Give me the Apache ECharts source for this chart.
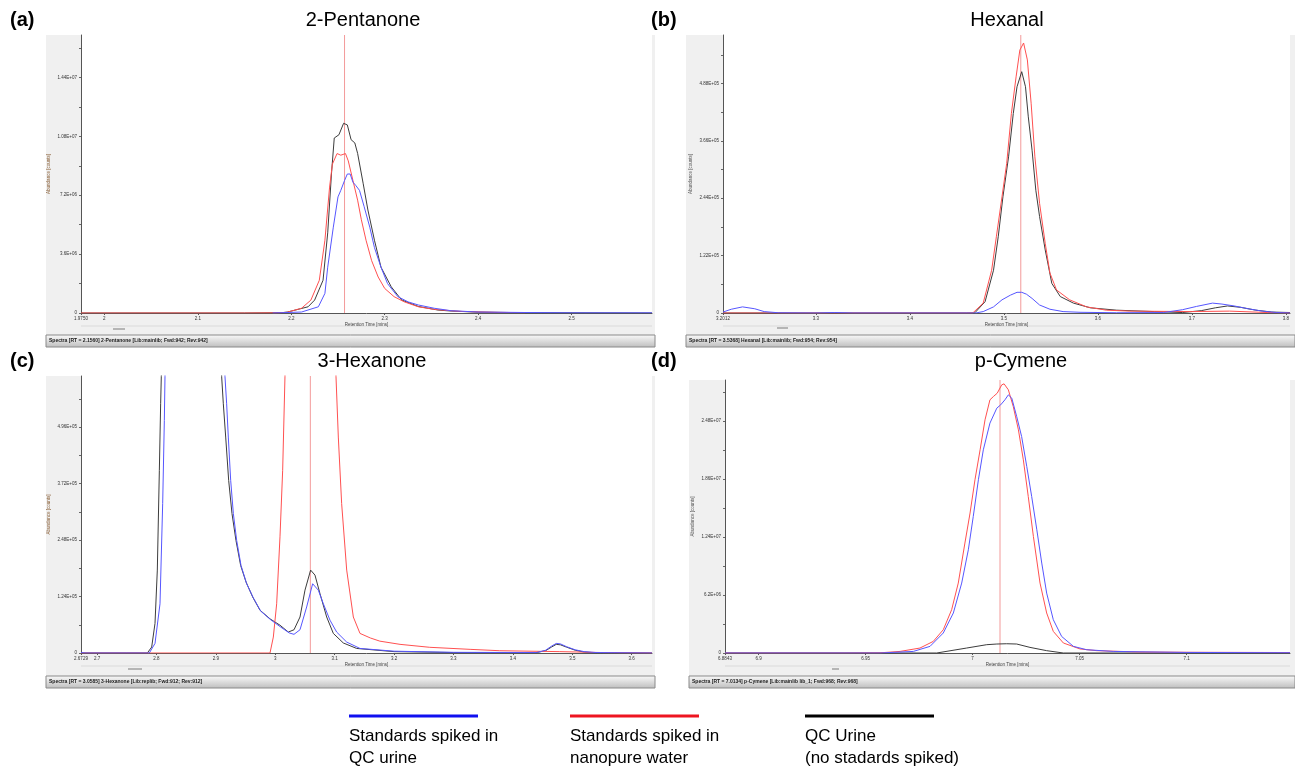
<!DOCTYPE html>
<html><head><meta charset="utf-8">
<script src="https://cdn.jsdelivr.net/npm/echarts@6/dist/echarts.min.js"></script>
<style>html,body{margin:0;padding:0;background:#fff}#c{width:1295px;height:772px}</style>
</head><body><div id="c"></div><script>
// ---------- data ----------
const seriesNames = ['Standards spiked in QC urine', 'Standards spiked in nanopure water', 'QC Urine (no stadards spiked)'];
const legendLabels = ['Standards spiked in\nQC urine', 'Standards spiked in\nnanopure water', 'QC Urine\n(no stadards spiked)'];
const compoundTitles = ['2-Pentanone', 'Hexanal', '3-Hexanone', 'p-Cymene'];
const panelTags = ['(a)', '(b)', '(c)', '(d)'];
const statusTexts = [
  'Spectra [RT = 2.1560] 2-Pentanone [Lib:mainlib; Fwd:942; Rev:942]',
  'Spectra [RT = 3.5368] Hexanal [Lib:mainlib; Fwd:954; Rev:954]',
  'Spectra [RT = 3.0585] 3-Hexanone [Lib:replib; Fwd:912; Rev:912]',
  'Spectra [RT = 7.0134] p-Cymene [Lib:mainlib lib_1; Fwd:968; Rev:968]'
];
const retentionMarks = [2.257, 3.518, 3.059, 7.0128];

const pentanoneXTicks = [1.975, 2, 2.1, 2.2, 2.3, 2.4, 2.5];
const pentanoneXLabels = ['1.9750', '2', '2.1', '2.2', '2.3', '2.4', '2.5'];
const pentanoneYTicks = [0, 3.6e6, 7.2e6, 1.08e7, 1.44e7];
const hexanalXTicks = [3.2012, 3.3, 3.4, 3.5, 3.6, 3.7, 3.8];
const hexanalXLabels = ['3.2012', '3.3', '3.4', '3.5', '3.6', '3.7', '3.8'];
const hexanalYTicks = [0, 1.22e5, 2.44e5, 3.66e5, 4.88e5];
const hexanoneXTicks = [2.6729, 2.7, 2.8, 2.9, 3, 3.1, 3.2, 3.3, 3.4, 3.5, 3.6];
const hexanoneXLabels = ['2.6729', '2.7', '2.8', '2.9', '3', '3.1', '3.2', '3.3', '3.4', '3.5', '3.6'];
const hexanoneYTicks = [0, 1.24e5, 2.48e5, 3.72e5, 4.96e5];
const cymeneXTicks = [6.8843, 6.9, 6.95, 7, 7.05, 7.1];
const cymeneXLabels = ['6.8843', '6.9', '6.95', '7', '7.05', '7.1'];
const cymeneYTicks = [0, 6.2e6, 1.24e7, 1.86e7, 2.48e7];

// 2-Pentanone
const pentanoneBlue = [[2.18,0],[2.211,0.06e6],[2.229,0.38e6],[2.236,1.2e6],[2.239,2.8e6],[2.245,5.25e6],[2.250,7.1e6],[2.253,7.5e6],[2.257,8.1e6],[2.260,8.5e6],[2.263,8.5e6],[2.266,8.0e6],[2.269,7.8e6],[2.273,7.5e6],[2.278,6.5e6],[2.284,5.25e6],[2.289,4.0e6],[2.296,2.8e6],[2.303,1.8e6],[2.314,1.0e6],[2.325,0.68e6],[2.336,0.49e6],[2.353,0.29e6],[2.371,0.14e6],[2.40,0.06e6],[2.45,0.03e6],[2.50,0.01e6],[2.586,0.01e6]];
const pentanoneRed = [[1.975,0],[2.15,0],[2.185,0.01e6],[2.195,0.04e6],[2.211,0.29e6],[2.221,0.79e6],[2.230,2.0e6],[2.236,4.45e6],[2.241,7.7e6],[2.244,9.1e6],[2.249,9.75e6],[2.253,9.65e6],[2.258,9.75e6],[2.261,9.3e6],[2.266,8.1e6],[2.271,6.9e6],[2.275,5.7e6],[2.280,4.45e6],[2.286,3.2e6],[2.293,2.2e6],[2.300,1.5e6],[2.310,1.0e6],[2.321,0.68e6],[2.336,0.38e6],[2.353,0.22e6],[2.38,0.1e6],[2.42,0.04e6],[2.45,0.02e6]];
const pentanoneBlack = [[1.975,0],[2.15,0],[2.19,0.02e6],[2.196,0.06e6],[2.218,0.38e6],[2.225,0.79e6],[2.234,2.0e6],[2.239,4.9e6],[2.243,8.5e6],[2.246,10.7e6],[2.251,10.9e6],[2.253,11.0e6],[2.256,11.6e6],[2.260,11.5e6],[2.264,10.6e6],[2.268,10.4e6],[2.271,9.76e6],[2.277,7.9e6],[2.282,6.3e6],[2.289,4.45e6],[2.296,2.8e6],[2.307,1.6e6],[2.318,0.8e6],[2.336,0.4e6],[2.357,0.18e6],[2.371,0.12e6],[2.40,0.05e6],[2.45,0.02e6],[2.586,0]];

// Hexanal
const hexanalBlue = [[3.2012,0.02e5],[3.21,0.08e5],[3.222,0.13e5],[3.235,0.09e5],[3.245,0.03e5],[3.26,0.005e5],[3.30,0],[3.32,0.01e5],[3.34,0],[3.47,0],[3.478,0.03e5],[3.489,0.13e5],[3.498,0.28e5],[3.507,0.38e5],[3.514,0.44e5],[3.519,0.44e5],[3.524,0.40e5],[3.530,0.31e5],[3.538,0.17e5],[3.549,0.08e5],[3.563,0.03e5],[3.581,0.015e5],[3.62,0.005e5],[3.67,0.01e5],[3.69,0.07e5],[3.705,0.14e5],[3.722,0.21e5],[3.732,0.19e5],[3.745,0.15e5],[3.76,0.09e5],[3.775,0.04e5],[3.79,0.01e5],[3.8044,0]];
const hexanalRed = [[3.2012,0],[3.46,0],[3.467,0.002e5],[3.478,0.21e5],[3.487,0.91e5],[3.492,1.62e5],[3.498,2.47e5],[3.503,3.18e5],[3.508,4.24e5],[3.513,5.02e5],[3.517,5.59e5],[3.521,5.74e5],[3.525,5.38e5],[3.529,4.46e5],[3.533,3.32e5],[3.538,2.33e5],[3.544,1.48e5],[3.549,0.85e5],[3.556,0.49e5],[3.570,0.28e5],[3.588,0.13e5],[3.609,0.06e5],[3.634,0.04e5],[3.70,0.03e5],[3.74,0.04e5],[3.78,0.01e5],[3.8044,0]];
const hexanalBlack = [[3.2012,0],[3.46,0],[3.469,0.002e5],[3.480,0.24e5],[3.489,0.91e5],[3.494,1.62e5],[3.499,2.47e5],[3.505,3.32e5],[3.510,4.24e5],[3.514,4.81e5],[3.519,5.13e5],[3.523,4.81e5],[3.526,4.17e5],[3.530,3.46e5],[3.534,2.61e5],[3.538,2.05e5],[3.544,1.34e5],[3.551,0.63e5],[3.560,0.35e5],[3.574,0.21e5],[3.592,0.11e5],[3.620,0.06e5],[3.66,0.03e5],[3.69,0.01e5],[3.71,0.05e5],[3.725,0.11e5],[3.738,0.15e5],[3.752,0.12e5],[3.768,0.06e5],[3.785,0.02e5],[3.8044,0.01e5]];

// 3-Hexanone
const hexanoneBlue = [[2.6729,0.01e5],[2.676,0.02e5],[2.68,0],[2.7879,0],[2.7975,0.21e5],[2.8059,1.08e5],[2.8104,3.28e5],[2.8132,5.1e5],[2.8143,6.07e5],[2.835,1.6e6],[2.865,2.2e6],[2.895,1.6e6],[2.9153,6.07e5],[2.9181,5.47e5],[2.9209,4.74e5],[2.9249,3.79e5],[2.9294,3.06e5],[2.9350,2.47e5],[2.9423,1.92e5],[2.9518,1.52e5],[2.9630,1.21e5],[2.9754,0.92e5],[2.9922,0.73e5],[3.0090,0.57e5],[3.0236,0.44e5],[3.0315,0.41e5],[3.0416,0.51e5],[3.0528,1.01e5],[3.0629,1.52e5],[3.0724,1.38e5],[3.0809,1.08e5],[3.0921,0.72e5],[3.1033,0.46e5],[3.1202,0.24e5],[3.1426,0.10e5],[3.2,0.04e5],[3.3,0.015e5],[3.44,0.01e5],[3.455,0.06e5],[3.465,0.15e5],[3.473,0.21e5],[3.48,0.2e5],[3.49,0.14e5],[3.505,0.07e5],[3.52,0.03e5],[3.54,0.01e5],[3.6342,0]];
const hexanoneRed = [[2.6729,0],[2.9911,0],[2.9967,0.35e5],[3.0023,1.08e5],[3.0079,2.55e5],[3.0124,4.01e5],[3.0163,6.07e5],[3.04,2.0e6],[3.06,2.6e6],[3.08,2.0e6],[3.1022,6.07e5],[3.1061,4.74e5],[3.1117,3.28e5],[3.1202,1.82e5],[3.1314,0.79e5],[3.1426,0.43e5],[3.16,0.33e5],[3.176,0.26e5],[3.210,0.19e5],[3.260,0.125e5],[3.328,0.08e5],[3.378,0.05e5],[3.479,0.03e5],[3.55,0.01e5],[3.6342,0]];
const hexanoneBlack = [[2.6729,0],[2.75,0],[2.7846,0],[2.7919,0.13e5],[2.7975,0.65e5],[2.8014,1.82e5],[2.8048,4.01e5],[2.8070,5.47e5],[2.8081,6.07e5],[2.83,1.6e6],[2.86,2.2e6],[2.89,1.6e6],[2.9097,6.07e5],[2.9125,5.47e5],[2.9165,4.74e5],[2.9215,3.79e5],[2.9271,3.06e5],[2.9338,2.47e5],[2.9417,1.92e5],[2.9507,1.56e5],[2.9619,1.23e5],[2.9742,0.94e5],[2.9911,0.75e5],[3.0079,0.61e5],[3.0219,0.46e5],[3.0315,0.51e5],[3.0416,0.79e5],[3.0500,1.38e5],[3.0595,1.82e5],[3.0668,1.71e5],[3.0753,1.30e5],[3.0865,0.79e5],[3.0977,0.43e5],[3.1145,0.22e5],[3.1370,0.10e5],[3.2,0.03e5],[3.3,0.01e5],[3.44,0.01e5],[3.455,0.05e5],[3.465,0.13e5],[3.473,0.19e5],[3.48,0.18e5],[3.49,0.13e5],[3.505,0.06e5],[3.52,0.02e5],[3.54,0.005e5],[3.6342,0]];

// p-Cymene
const cymeneBlue = [[6.8843,0],[6.94,0],[6.9567,0],[6.9723,0.17e6],[6.9801,0.71e6],[6.9863,2.14e6],[6.9910,4.28e6],[6.9949,7.48e6],[6.9980,11.04e6],[7.0003,14.6e6],[7.0027,18.53e6],[7.0050,21.73e6],[7.0081,24.59e6],[7.0113,26.19e6],[7.0131,26.54e6],[7.0151,27.08e6],[7.0167,27.61e6],[7.0183,27.26e6],[7.0206,25.29e6],[7.0229,23.15e6],[7.0253,19.95e6],[7.0276,16.74e6],[7.0300,13.18e6],[7.0323,9.62e6],[7.0346,6.41e6],[7.0377,3.56e6],[7.0416,1.77e6],[7.0471,0.71e6],[7.0533,0.35e6],[7.0657,0.17e6],[7.10,0.06e6],[7.1483,0.03e6]];
const cymeneRed = [[6.8843,0],[6.94,0],[6.9567,0.02e6],[6.9661,0.17e6],[6.9754,0.53e6],[6.9816,1.24e6],[6.9863,2.49e6],[6.9902,4.63e6],[6.9933,7.48e6],[6.9964,11.76e6],[6.9988,14.97e6],[7.0011,18.53e6],[7.0035,21.73e6],[7.0058,24.94e6],[7.0081,27.08e6],[7.0097,27.43e6],[7.0115,27.79e6],[7.0136,28.68e6],[7.0147,28.79e6],[7.0167,28.15e6],[7.0190,26.36e6],[7.0214,23.87e6],[7.0237,20.66e6],[7.0260,16.74e6],[7.0284,12.46e6],[7.0315,7.48e6],[7.0346,4.28e6],[7.0377,2.31e6],[7.0424,1.07e6],[7.0502,0.43e6],[7.0580,0.25e6],[7.0689,0.17e6],[7.0782,0.11e6],[7.10,0.08e6],[7.1483,0.05e6]];
const cymeneBlack = [[6.8843,0],[6.9832,0],[6.9972,0.53e6],[7.0066,0.89e6],[7.0113,0.96e6],[7.0159,0.99e6],[7.0206,0.96e6],[7.0268,0.6e6],[7.0346,0.25e6],[7.0424,0],[7.1483,0]];

// ---------- layout / styles ----------
const lineColors = ['#5656ff', '#ff5050', '#3c3c3c'];
const markColor = '#f39a9a';
const legendColors = ['#1010f0', '#ee1520', '#000000'];
const FONT = 'Liberation Sans, Arial, sans-serif';

const panels = [
  {grid:{left:81, top:35, width:571, height:278}, xMin:1.975, xMax:2.586, yMax:1.70e7,
   xt:pentanoneXTicks, xl:pentanoneXLabels, yt:pentanoneYTicks, data:[pentanoneBlue,pentanoneRed,pentanoneBlack],
   bg:[46,35,609,300], nameColor:'#8a6038', tag:[10,20], title:[363,20], dash:[113,125,329], scrollY:326},
  {grid:{left:723, top:35, width:567, height:278}, xMin:3.2012, xMax:3.8044, yMax:5.91e5,
   xt:hexanalXTicks, xl:hexanalXLabels, yt:hexanalYTicks, data:[hexanalBlue,hexanalRed,hexanalBlack],
   bg:[686,35,609,300], nameColor:'#555555', tag:[651,20], title:[1007,20], dash:[777,788,328], scrollY:326},
  {grid:{left:81, top:376, width:571, height:277}, xMin:2.6729, xMax:3.6342, yMax:6.08e5,
   xt:hexanoneXTicks, xl:hexanoneXLabels, yt:hexanoneYTicks, data:[hexanoneBlue,hexanoneRed,hexanoneBlack],
   bg:[46,376,609,300], nameColor:'#8a6038', tag:[10,361], title:[372,361], dash:[128,142,669], scrollY:666},
  {grid:{left:725, top:380, width:565, height:273}, xMin:6.8843, xMax:7.1483, yMax:2.92e7,
   xt:cymeneXTicks, xl:cymeneXLabels, yt:cymeneYTicks, data:[cymeneBlue,cymeneRed,cymeneBlack],
   bg:[689,380,606,296], nameColor:'#555555', tag:[651,361], title:[1021,361], dash:[832,839,669], scrollY:666}
];

function fmtE(v) {
  if (v === 0) return '0';
  const parts = v.toExponential(2).split('e');
  let m = parts[0].replace(/\.?0+$/, '');
  const n = parseInt(parts[1], 10);
  return m + 'E' + (n < 0 ? '-' : '+') + String(Math.abs(n)).padStart(2, '0');
}
function withMinor(t, max) {
  const out = [];
  const step = t[1] - t[0];
  for (let i = 0; i < t.length; i++) {
    out.push(t[i]);
    const mid = t[i] + step / 2;
    if (mid < max) out.push(mid);
  }
  return out;
}

const grids = [], xAxes = [], yAxes = [], series = [], graphics = [];
panels.forEach((p, i) => {
  grids.push(Object.assign({show:true, backgroundColor:'#ffffff', borderWidth:0, containLabel:false}, p.grid));
  xAxes.push({
    type:'value', gridIndex:i, min:p.xMin, max:p.xMax,
    name:'Retention Time [mins]', nameLocation:'middle', nameGap:8,
    nameTextStyle:{fontSize:4.5, color:'#444', fontFamily:FONT},
    axisLine:{show:true, onZero:false, lineStyle:{color:'#555', width:1}},
    axisTick:{show:true, length:2, customValues:p.xt, lineStyle:{color:'#555'}},
    axisLabel:{fontSize:4.5, color:'#333', margin:3, fontFamily:FONT, customValues:p.xt,
      formatter:(v) => { const k = p.xt.indexOf(v); return k >= 0 ? p.xl[k] : ''; }},
    splitLine:{show:false}
  });
  yAxes.push({
    type:'value', gridIndex:i, min:0, max:p.yMax,
    name:'Abundance [counts]', nameLocation:'middle', nameGap:30, nameRotate:90,
    nameTextStyle:{fontSize:4.5, color:p.nameColor, fontFamily:FONT},
    axisLine:{show:true, onZero:false, lineStyle:{color:'#555', width:1}},
    axisTick:{show:true, length:2, customValues:withMinor(p.yt, p.yMax), lineStyle:{color:'#666'}},
    axisLabel:{fontSize:4.5, color:'#333', margin:4, fontFamily:FONT, customValues:p.yt, formatter:fmtE},
    splitLine:{show:false}
  });
  // retention-time marker: a vertical line through the full value range
  series.push({
    name:'RT', type:'line', xAxisIndex:i, yAxisIndex:i,
    data:[[retentionMarks[i], 0], [retentionMarks[i], p.yMax]],
    showSymbol:false, symbol:'none', silent:true, animation:false, z:2,
    lineStyle:{color:markColor, width:1}
  });
  [2, 1, 0].forEach((s) => {
    series.push({
      name:seriesNames[s], type:'line', xAxisIndex:i, yAxisIndex:i, data:p.data[s],
      showSymbol:false, symbol:'none', clip:true, animation:false, silent:true,
      lineStyle:{color:lineColors[s], width:1}, z:3 + (2 - s)
    });
  });

  const [bx, by, bw, bh] = p.bg;
  graphics.push({type:'rect', z:-10, shape:{x:bx, y:by, width:bw, height:bh}, style:{fill:'#f0f0f0'}});
  graphics.push({type:'rect', z:-9, shape:{x:bx, y:by + bh, width:bw, height:12},
    style:{fill:{type:'linear', x:0, y:0, x2:0, y2:1, colorStops:[{offset:0, color:'#fbfbfb'}, {offset:1, color:'#bdbdbd'}]}, stroke:'#8a8a8a', lineWidth:1}});
  graphics.push({type:'text', z:10, x:bx + 3, y:by + bh + 6,
    style:{text:statusTexts[i], font:'bold 5px ' + FONT, fill:'#1a1a1a', align:'left', verticalAlign:'middle', textAlign:'left', textVerticalAlign:'middle'}});
  graphics.push({type:'line', z:-8, shape:{x1:p.grid.left, y1:p.scrollY, x2:p.grid.left + p.grid.width, y2:p.scrollY}, style:{stroke:'#dadada', lineWidth:1}});
  graphics.push({type:'line', z:-8, shape:{x1:p.dash[0], y1:p.dash[2], x2:p.dash[1], y2:p.dash[2]}, style:{stroke:'#7a7a7a', lineWidth:1}});
  graphics.push({type:'text', z:10, x:p.tag[0], y:p.tag[1],
    style:{text:panelTags[i], font:'bold 20px ' + FONT, fill:'#000', align:'left', verticalAlign:'middle', textAlign:'left', textVerticalAlign:'middle'}});
  graphics.push({type:'text', z:10, x:p.title[0], y:p.title[1],
    style:{text:compoundTitles[i], font:'20px ' + FONT, fill:'#000', align:'center', verticalAlign:'middle', textAlign:'center', textVerticalAlign:'middle'}});
});

const legendX = [349, 570, 805];
legendX.forEach((x, k) => {
  graphics.push({type:'line', z:10, shape:{x1:x, y1:716, x2:x + 129, y2:716}, style:{stroke:legendColors[k], lineWidth:3}});
  graphics.push({type:'text', z:10, x:x, y:725,
    style:{text:legendLabels[k], font:'17px ' + FONT, fill:'#000', lineHeight:22, align:'left', verticalAlign:'top', textAlign:'left', textVerticalAlign:'top'}});
});

const chart = echarts.init(document.getElementById('c'), null, {renderer:'canvas'});
chart.setOption({
  backgroundColor:'#ffffff', animation:false,
  grid:grids, xAxis:xAxes, yAxis:yAxes, series:series, graphic:graphics
});
</script></body></html>
